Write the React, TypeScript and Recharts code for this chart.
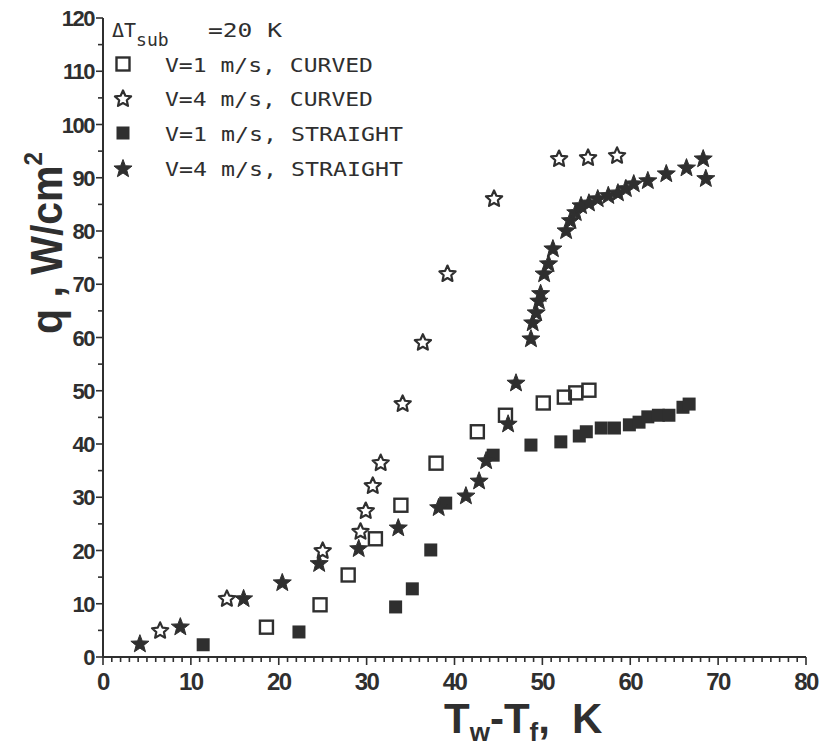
import { ScatterChart, Scatter, XAxis, YAxis } from 'recharts';

// V=1 m/s, curved (open squares)
const curvedV1X = [18.6, 24.7, 27.9, 31.0, 33.9, 37.9, 42.6, 45.8, 50.1, 52.5, 53.8, 55.3];
const curvedV1Y = [5.6, 9.8, 15.4, 22.2, 28.5, 36.4, 42.3, 45.4, 47.7, 48.8, 49.6, 50.1];

// V=4 m/s, curved (open stars)
const curvedV4X = [6.5, 14.1, 25.0, 29.3, 29.9, 30.7, 31.6, 34.1, 36.4, 39.2, 44.5, 51.9, 55.2, 58.5];
const curvedV4Y = [5.1, 11.1, 20.1, 23.7, 27.6, 32.3, 36.6, 47.7, 59.2, 72.1, 86.2, 93.7, 93.9, 94.3];

// V=1 m/s, straight (filled squares)
const straightV1X = [11.4, 22.3, 33.3, 35.2, 37.3, 39.0, 44.4, 48.7, 52.1, 54.2, 55.0, 56.7, 58.2, 59.9, 61.0, 62.0, 63.2, 64.4, 66.0, 66.7];
const straightV1Y = [2.3, 4.7, 9.4, 12.8, 20.1, 28.9, 37.9, 39.8, 40.4, 41.5, 42.3, 43.0, 43.0, 43.6, 44.1, 45.1, 45.4, 45.4, 46.9, 47.5];

// V=4 m/s, straight (filled stars)
const straightV4X = [4.2, 8.8, 16.0, 20.4, 24.6, 29.1, 33.6, 38.2, 41.3, 42.8, 43.6, 46.1, 47.0, 48.7, 48.9, 49.3, 49.6, 49.8, 50.2, 50.7, 51.2, 52.7, 53.2, 53.8, 54.4, 55.3, 56.3, 57.5, 58.6, 59.5, 60.4, 62.0, 64.1, 66.4, 68.3, 68.6];
const straightV4Y = [2.6, 5.8, 11.1, 14.1, 17.7, 20.5, 24.4, 28.2, 30.4, 33.2, 37.0, 43.9, 51.6, 59.9, 62.9, 64.8, 67.0, 68.4, 72.1, 74.0, 76.8, 80.2, 82.1, 83.6, 84.9, 85.4, 86.2, 86.8, 87.3, 88.1, 89.0, 89.6, 90.9, 92.0, 93.7, 90.0];

const xMajorTicks = [0, 10, 20, 30, 40, 50, 60, 70, 80];
const yMajorTicks = [0, 10, 20, 30, 40, 50, 60, 70, 80, 90, 100, 110, 120];
const legendLabels = ['V=1  m/s, CURVED', 'V=4  m/s, CURVED', 'V=1  m/s, STRAIGHT', 'V=4  m/s, STRAIGHT'];

const xTicks = Array.from({ length: 81 }, (_, i) => i);
const yTicks = Array.from({ length: 25 }, (_, i) => i * 5);

const toPoints = (xs: number[], ys: number[]) => xs.map((x, i) => ({ x, y: ys[i] }));

const INK = '#2f2f2f';
const NUM_FONT = '"Liberation Sans", Arial, sans-serif';
const MONO = '"DejaVu Sans Mono", monospace';

function starPath(cx: number, cy: number, R: number, r: number) {
  let d = '';
  for (let i = 0; i < 10; i++) {
    const rad = i % 2 === 0 ? R : r;
    const a = -Math.PI / 2 + (i * Math.PI) / 5;
    d += (i === 0 ? 'M' : 'L') + (cx + rad * Math.cos(a)).toFixed(2) + ',' + (cy + rad * Math.sin(a)).toFixed(2);
  }
  return d + 'Z';
}

const OpenSquare = ({ cx, cy }: any) => (
  <rect x={cx - 6.5} y={cy - 6.5} width={13} height={13} fill="none" stroke={INK} strokeWidth={2.4} />
);
const FilledSquare = ({ cx, cy }: any) => (
  <rect x={cx - 6.5} y={cy - 6.5} width={13} height={13} fill={INK} />
);
const OpenStar = ({ cx, cy }: any) => (
  <path d={starPath(cx, cy + 1, 8.5, 4)} fill="none" stroke={INK} strokeWidth={2.2} strokeLinejoin="round" />
);
const FilledStar = ({ cx, cy }: any) => (
  <path d={starPath(cx, cy + 1, 9.5, 4)} fill={INK} stroke={INK} strokeWidth={1} strokeLinejoin="round" />
);

const XTick = ({ x, y, payload }: any) => {
  const major = xMajorTicks.includes(payload.value);
  return (
    <g>
      <line x1={x} x2={x} y1={y} y2={y + (major ? 8 : 5)} stroke={INK} strokeWidth={1.6} />
      {major && (
        <text x={x} y={y + 33} textAnchor="middle" fontFamily={NUM_FONT} fontWeight={700} fontSize={24} letterSpacing={-1.5} fill={INK}>
          {payload.value}
        </text>
      )}
    </g>
  );
};

const YTick = ({ x, y, payload }: any) => {
  const major = yMajorTicks.includes(payload.value);
  return (
    <g>
      <line x1={x} x2={x - (major ? 7 : 5)} y1={y} y2={y} stroke={INK} strokeWidth={1.6} />
      {major && (
        <text x={x - 9} y={y + 8} textAnchor="end" fontFamily={NUM_FONT} fontWeight={700} fontSize={22} letterSpacing={-1.5} fill={INK}>
          {payload.value}
        </text>
      )}
    </g>
  );
};

const legendMarkers = [OpenSquare, OpenStar, FilledSquare, FilledStar];
const legendRowsY = [64, 98, 133, 168];

export default function App() {
  return (
    <div style={{ position: 'absolute', left: 0, top: 0, width: 821, height: 750, background: '#fff' }}>
      <ScatterChart width={821} height={750} margin={{ top: 18, right: 15, bottom: 53, left: 43 }}>
        <XAxis
          type="number"
          dataKey="x"
          domain={[0, 80]}
          ticks={xTicks}
          interval={0}
          tickSize={0}
          tickMargin={0}
          tick={<XTick />}
          height={40}
          axisLine={{ stroke: INK, strokeWidth: 2 }}
          allowDataOverflow
        />
        <YAxis
          type="number"
          dataKey="y"
          domain={[0, 120]}
          ticks={yTicks}
          interval={0}
          tickSize={0}
          tickMargin={0}
          tick={<YTick />}
          width={60}
          axisLine={{ stroke: INK, strokeWidth: 2 }}
          allowDataOverflow
        />
        <Scatter data={toPoints(curvedV1X, curvedV1Y)} shape={<OpenSquare />} isAnimationActive={false} />
        <Scatter data={toPoints(straightV1X, straightV1Y)} shape={<FilledSquare />} isAnimationActive={false} />
        <Scatter data={toPoints(straightV4X, straightV4Y)} shape={<FilledStar />} isAnimationActive={false} />
        <Scatter data={toPoints(curvedV4X, curvedV4Y)} shape={<OpenStar />} isAnimationActive={false} />
      </ScatterChart>

      <svg width={821} height={750} style={{ position: 'absolute', left: 0, top: 0, pointerEvents: 'none' }}>
        {/* legend */}
        <text x={112} y={37} fontFamily={MONO} fontSize={20} fill={INK}>
          ΔT
          <tspan fontSize={18} dy={9}>sub</tspan>
        </text>
        <text x={208} y={37} fontFamily={MONO} fontSize={20} fill={INK} textLength={74} lengthAdjust="spacingAndGlyphs">
          =20 K
        </text>
        {legendLabels.map((label, i) => {
          const Marker = legendMarkers[i];
          return (
            <g key={label}>
              <Marker cx={123} cy={legendRowsY[i]} />
              <text
                x={165}
                y={legendRowsY[i] + 8}
                fontFamily={MONO}
                fontSize={20}
                fill={INK}
                textLength={label.includes('STRAIGHT') ? 238 : 208}
                lengthAdjust="spacingAndGlyphs"
              >
                {label}
              </text>
            </g>
          );
        })}

        {/* axis titles */}
        <text x={444} y={733} fontFamily={NUM_FONT} fontWeight={700} fontSize={42} fill={INK}>
          T<tspan fontSize={26} dy={8}>w</tspan>
          <tspan dy={-8}>-T</tspan>
          <tspan fontSize={26} dy={8}>f</tspan>
          <tspan dy={-8}>,</tspan>
          <tspan dx={22}>K</tspan>
        </text>
        <text
          transform="translate(62,334) rotate(-90)"
          x={0}
          y={0}
          fontFamily={NUM_FONT}
          fontWeight={700}
          fontSize={44}
          fill={INK}
          textLength={182}
          lengthAdjust="spacingAndGlyphs"
        >
          q , W/cm<tspan fontSize={26} dy={-20}>2</tspan>
        </text>
      </svg>
    </div>
  );
}
